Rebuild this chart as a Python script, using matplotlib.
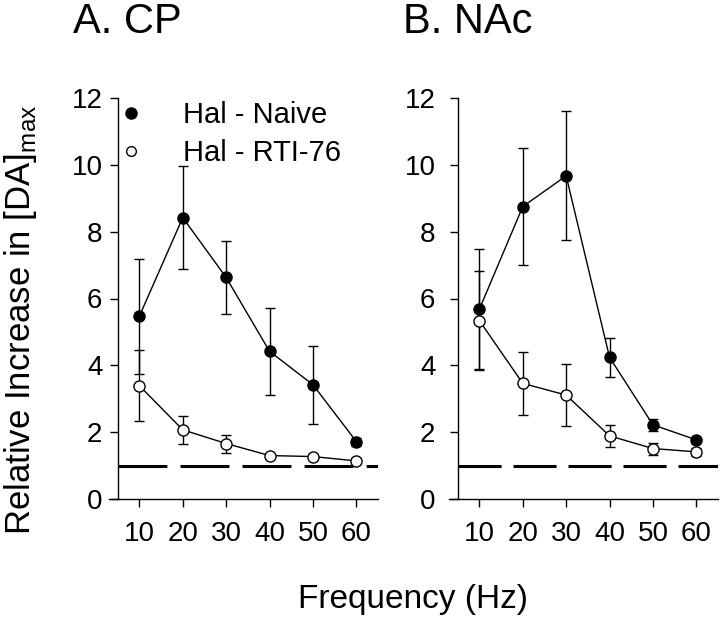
import matplotlib
matplotlib.use("Agg")
import matplotlib.pyplot as plt
from matplotlib.lines import Line2D

plt.rcParams['font.family'] = ['Liberation Sans', 'DejaVu Sans']

# --- data ---
freq = [10, 20, 30, 40, 50, 60]

cp_naive = [5.47, 8.42, 6.63, 4.42, 3.42, 1.72]
cp_naive_err = [1.72, 1.55, 1.10, 1.30, 1.17, 0.12]
cp_rti = [3.39, 2.07, 1.66, 1.30, 1.27, 1.14]
cp_rti_err = [1.07, 0.41, 0.27, 0.05, 0.08, 0.08]

nac_naive = [5.68, 8.75, 9.67, 4.24, 2.22, 1.77]
nac_naive_err = [1.80, 1.76, 1.93, 0.58, 0.18, 0.10]
nac_rti = [5.34, 3.46, 3.11, 1.89, 1.51, 1.41]
nac_rti_err = [1.48, 0.95, 0.92, 0.33, 0.18, 0.13]

baseline = 1.0
yticks = [0, 2, 4, 6, 8, 10, 12]
labels = ["Hal - Naive", "Hal - RTI-76"]

fig = plt.figure(figsize=(7.2, 6.19), dpi=100)
ax1 = fig.add_axes([109/720, 120/619, 269/720, 401/619])
ax2 = fig.add_axes([449/720, 120/619, 269/720, 401/619])


def panel(ax, naive, naive_err, rti, rti_err, dashes, ypad):
    ax.hlines(baseline, 5, 65, colors='black', lw=2.2,
              linestyles=(0, dashes), zorder=1)
    ax.errorbar(freq, naive, yerr=naive_err, color='black', marker='o', ms=8,
                mfc='black', mec='black', lw=1, elinewidth=1, capsize=3.5,
                capthick=1, zorder=3, clip_on=False)
    ax.errorbar(freq, rti, yerr=rti_err, color='black', marker='o', ms=8,
                mfc='white', mec='black', mew=1, lw=1, elinewidth=1,
                capsize=3.5, capthick=1, zorder=4, clip_on=False)
    ax.set_xlim(3, 65)
    ax.set_ylim(0, 12)
    ax.set_xticks(freq)
    ax.set_yticks(yticks)
    ax.spines['top'].set_visible(False)
    ax.spines['right'].set_visible(False)
    ax.spines['left'].set_position(('data', 5))
    ax.spines['left'].set_bounds(0, 12)
    for s in ('left', 'bottom'):
        ax.spines[s].set_linewidth(1)
    ax.tick_params(axis='both', direction='out', length=6, width=1,
                   labelsize=20)
    ax.tick_params(axis='x', pad=10)
    ax.tick_params(axis='y', pad=ypad)


panel(ax1, cp_naive, cp_naive_err, cp_rti, cp_rti_err, (16, 4.3), 5)
panel(ax2, nac_naive, nac_naive_err, nac_rti, nac_rti_err, (14.1, 3.9), 10)

handles = [
    Line2D([], [], ls='none', marker='o', ms=8, mfc='black', mec='black'),
    Line2D([], [], ls='none', marker='o', ms=7, mfc='white', mec='black'),
]
ax1.legend(handles, labels, loc='upper left', frameon=False, fontsize=21,
           bbox_to_anchor=(122/720, 1 - 101/619), bbox_transform=fig.transFigure,
           borderaxespad=0, borderpad=0, handlelength=0.6, handletextpad=1.5,
           labelspacing=0.35)

fig.text(73/720, 1 - 33/619, "A. CP", fontsize=30, ha='left', va='baseline')
fig.text(403/720, 1 - 33/619, "B. NAc", fontsize=30, ha='left', va='baseline')
fig.text(2/720, 1 - 535/619, "Relative Increase in [DA]$_{\\mathregular{max}}$",
         fontsize=25, rotation=90, ha='left', va='bottom')
fig.text(413/720, 1 - 608/619, "Frequency (Hz)", fontsize=24,
         ha='center', va='baseline')

fig.savefig("out.png", dpi=100)
